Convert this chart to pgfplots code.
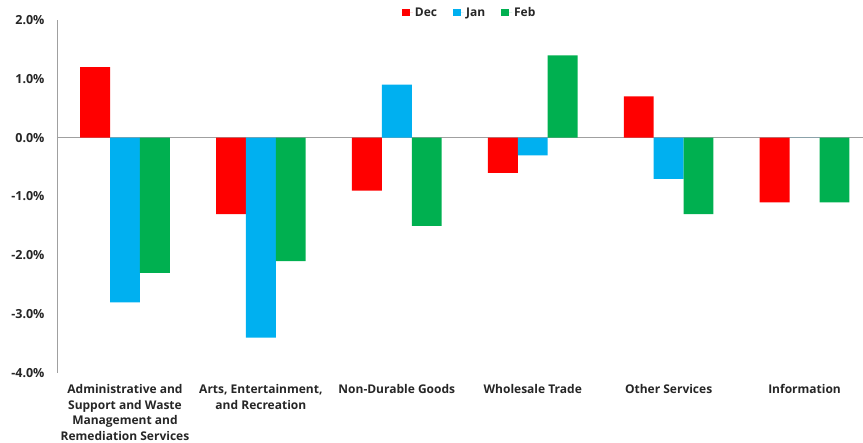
\documentclass[border=0pt]{standalone}
\usepackage{fontspec}
\setmainfont{Open Sans}[UprightFont=* Bold]
\usepackage{pgfplots}
\pgfplotsset{compat=1.18}
\definecolor{cdec}{RGB}{255,0,0}
\definecolor{cjan}{RGB}{0,176,240}
\definecolor{cfeb}{RGB}{0,176,80}
\definecolor{txt}{RGB}{38,38,38}
\definecolor{ax}{RGB}{160,160,160}
\begin{document}
\begin{tikzpicture}
\path[use as bounding box] (-57pt,-70pt) rectangle (806pt,373pt);
\begin{axis}[
    ybar=0pt,
    bar width=0.22,
    scale only axis,
    width=806pt,
    height=353pt,
    xmin=-0.5, xmax=5.43,
    ymin=-4, ymax=2,
    ytick={-4,-3,-2,-1,0,1,2},
    xtick={0,1,2,3,4,5},
    xticklabels={{Administrative and\\Support and Waste\\Management and\\Remediation Services},
                 {Arts, Entertainment,\\and Recreation},
                 {Non-Durable Goods},{Wholesale Trade},{Other Services},{Information}},
    x tick label style={align=center,anchor=north,font=\fontsize{12}{15.5}\selectfont,text=txt,yshift=-8pt},
    y tick label style={font=\fontsize{12.5}{14}\selectfont,text=txt,xshift=-9pt},
    /pgf/number format/assume math mode=true,
    yticklabel={\pgfmathprintnumber[fixed,fixed zerofill,precision=1]{\tick}\%},
    major tick length=0pt,
    axis lines*=left,
    x axis line style={draw=none},
    y axis line style={draw=ax,line width=0.8pt},
    extra y ticks={0},
    extra y tick labels={},
    extra y tick style={grid=major,major grid style={draw=ax,line width=0.8pt}},
    legend style={at={(0.512,1.02)},anchor=center,legend columns=3,draw=none,fill=none,
        font=\fontsize{12}{14}\selectfont,text=txt,
        /tikz/every even column/.append style={column sep=14pt}},
    legend image code/.code={\path (0pt,0pt) -- (11pt,0pt);\fill[#1] (0pt,-3.5pt) rectangle (8pt,4pt);},
]
\addplot[fill=cdec,draw=none] coordinates {(0,1.2) (1,-1.3) (2,-0.9) (3,-0.6) (4,0.7) (5,-1.1)};
\addplot[fill=cjan,draw=none] coordinates {(0,-2.8) (1,-3.4) (2,0.9) (3,-0.3) (4,-0.7) (5,0)};
\addplot[fill=cfeb,draw=none] coordinates {(0,-2.3) (1,-2.1) (2,-1.5) (3,1.4) (4,-1.3) (5,-1.1)};
\legend{Dec,Jan,Feb}
\end{axis}
\end{tikzpicture}
\end{document}
